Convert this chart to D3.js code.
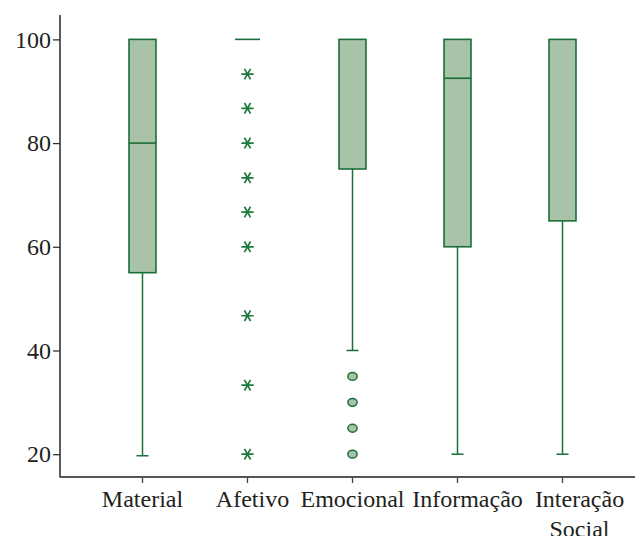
<!DOCTYPE html>
<html>
<head>
<meta charset="utf-8">
<script src="https://cdn.jsdelivr.net/npm/d3@7"></script>
<style>
  html, body { margin: 0; padding: 0; background: #fff; }
  text { font-family: "Liberation Serif", "DejaVu Serif", serif; fill: #231f20; }
</style>
</head>
<body>
<div class="container_graph"></div>
<script>
// categorias y valores del boxplot
const categories = ["Material", "Afetivo", "Emocional", "Informação", "Interação Social"];
const whiskerLow = [19.7, 100, 40, 20, 20];
const q1 = [55, 100, 75, 60, 65];
const median = [80, 100, 100, 92.5, 100];
const q3 = [100, 100, 100, 100, 100];
const whiskerHigh = [100, 100, 100, 100, 100];
// valores extremos (estrellas) y atipicos (circulos)
const extremes = [[], [93.3, 86.7, 80, 73.3, 66.7, 60, 46.7, 33.3, 20], [], [], []];
const outliers = [[], [], [35, 30, 25, 20], [], []];
const yTicks = [20, 40, 60, 80, 100];

const width = 635;
const height = 536;
const boxFill = "#a8c3a8";
const green = "#1b6e37";
// desplazamiento horizontal de las etiquetas (como en el original)
const labelShift = { Afetivo: 5, "Informação": 10, "Interação Social": 17 };

const svg = d3
  .select(".container_graph")
  .append("svg")
  .attr("width", width)
  .attr("height", height)
  .attr("viewBox", [0, 0, width, height]);

const x = d3.scaleBand().domain(categories).range([90, 615]);
const y = d3.scaleLinear().domain([15.6, 104.7]).range([477, 15]);
const cx = (c) => x(c) + x.bandwidth() / 2;

const data = categories.map((c, i) => ({
  cat: c,
  lo: whiskerLow[i],
  q1: q1[i],
  med: median[i],
  q3: q3[i],
  hi: whiskerHigh[i],
  ext: extremes[i],
  out: outliers[i],
}));

// eje y
const yAxis = svg
  .append("g")
  .attr("transform", "translate(60,0)")
  .call(d3.axisLeft(y).tickValues(yTicks).tickSize(7).tickPadding(2).tickSizeOuter(0));
yAxis.select(".domain").remove();
yAxis.selectAll(".tick line").attr("stroke", "#333").attr("stroke-width", 1.3);
yAxis.selectAll(".tick text").style("font-size", "24px");

// eje x
const xAxis = svg
  .append("g")
  .attr("transform", "translate(0,477)")
  .call(d3.axisBottom(x).tickSize(6).tickPadding(7).tickSizeOuter(0));
xAxis.select(".domain").remove();
xAxis.selectAll(".tick line").attr("stroke", "#444").attr("stroke-width", 1.3);
xAxis
  .selectAll(".tick text")
  .style("font-size", "24px")
  .each(function (d) {
    const words = d === "Interação Social" ? ["Interação", "Social"] : [d];
    const dx = labelShift[d] || 0;
    const t = d3.select(this).text(null);
    words.forEach((w, i) => {
      t.append("tspan").attr("x", dx).attr("dy", i === 0 ? "0.71em" : "1.25em").text(w);
    });
  });

// lineas de los ejes
svg.append("line")
  .attr("x1", 60).attr("x2", 60).attr("y1", 15).attr("y2", 477.5)
  .attr("stroke", "#333").attr("stroke-width", 1.6);
svg.append("line")
  .attr("x1", 60).attr("x2", width).attr("y1", 477).attr("y2", 477)
  .attr("stroke", "#555").attr("stroke-width", 2);

const boxW = 27;
const capW = 12;

const g = svg.selectAll(".box").data(data).join("g").attr("class", "box");

// bigotes
g.append("line")
  .attr("x1", (d) => cx(d.cat)).attr("x2", (d) => cx(d.cat))
  .attr("y1", (d) => y(d.lo)).attr("y2", (d) => y(d.q1))
  .attr("stroke", green).attr("stroke-width", 1.5);
g.filter((d) => d.lo < d.q1)
  .append("line")
  .attr("x1", (d) => cx(d.cat) - capW / 2).attr("x2", (d) => cx(d.cat) + capW / 2)
  .attr("y1", (d) => y(d.lo)).attr("y2", (d) => y(d.lo))
  .attr("stroke", green).attr("stroke-width", 1.5);

// cajas
g.filter((d) => d.q3 > d.q1)
  .append("rect")
  .attr("x", (d) => cx(d.cat) - boxW / 2)
  .attr("width", boxW)
  .attr("y", (d) => y(d.q3))
  .attr("height", (d) => y(d.q1) - y(d.q3))
  .attr("fill", boxFill)
  .attr("stroke", green)
  .attr("stroke-width", 1.6);

// mediana (solo si no coincide con el borde de la caja)
g.filter((d) => d.med < d.q3 || d.q3 === d.q1)
  .append("line")
  .attr("x1", (d) => cx(d.cat) - (d.q3 === d.q1 ? 12.5 : boxW / 2))
  .attr("x2", (d) => cx(d.cat) + (d.q3 === d.q1 ? 12.5 : boxW / 2))
  .attr("y1", (d) => y(d.med)).attr("y2", (d) => y(d.med))
  .attr("stroke", green).attr("stroke-width", 1.6);

// extremos
const star = d3.symbol().type(d3.symbolAsterisk).size(105);
g.selectAll(".ext")
  .data((d) => d.ext.map((v) => ({ cat: d.cat, v })))
  .join("path")
  .attr("class", "ext")
  .attr("d", star)
  .attr("transform", (d) => `translate(${cx(d.cat)},${y(d.v)}) rotate(90)`)
  .attr("fill", "none")
  .attr("stroke", "#1e7a3c")
  .attr("stroke-width", 1.7);

// atipicos
g.selectAll(".out")
  .data((d) => d.out.map((v) => ({ cat: d.cat, v })))
  .join("ellipse")
  .attr("class", "out")
  .attr("cx", (d) => cx(d.cat))
  .attr("cy", (d) => y(d.v))
  .attr("rx", 4.6)
  .attr("ry", 3.9)
  .attr("fill", boxFill)
  .attr("stroke", green)
  .attr("stroke-width", 1.5);
</script>
</body>
</html>
